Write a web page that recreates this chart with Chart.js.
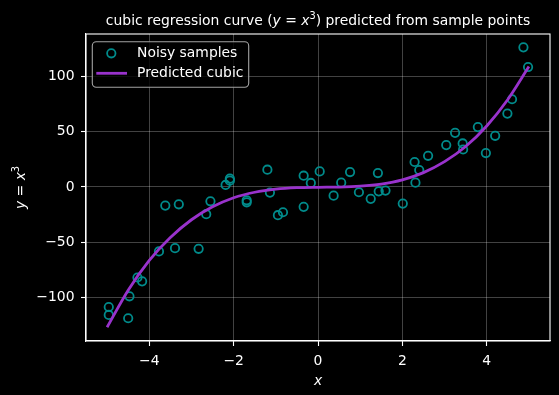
<!DOCTYPE html>
<html><head><meta charset="utf-8">
<style>html,body{margin:0;padding:0;background:#000;}canvas{display:block;}</style>
<script src="https://cdn.jsdelivr.net/npm/chart.js@4.4.0/dist/chart.umd.min.js"></script>
</head><body>
<canvas id="c" width="559" height="395"></canvas>
<script>
// ---- data ----
const sampleX = [-4.96,-4.96,-4.50,-4.47,-4.28,-4.17,-3.77,-3.62,-3.39,-3.30,-2.83,-2.65,-2.55,-2.19,-2.09,-2.09,-1.69,-1.69,-1.20,-1.14,-0.95,-0.83,-0.34,-0.34,-0.17,0.04,0.37,0.55,0.76,0.97,1.25,1.42,1.44,1.60,2.01,2.29,2.40,2.31,2.61,3.04,3.25,3.43,3.44,3.79,3.98,4.20,4.49,4.60,4.87,4.98];
const sampleY = [-108.7,-115.9,-118.9,-99,-82,-85.5,-58.4,-16.9,-55.4,-15.7,-56,-24.7,-13,1.8,7.5,5.7,-12.1,-13.9,15.6,-5.1,-25.6,-22.9,10.2,-18,3.6,14.1,-7.9,3.9,13.5,-4.8,-10.8,12.6,-4,-3.3,-15.1,22.6,15.3,3.9,28.2,37.9,49,39.4,33.9,54.2,30.7,46.3,66.4,79.4,126.4,108.6];
const curveX = [-5,-4.5,-4,-3.5,-3,-2.5,-2,-1.5,-1,-0.5,0,0.5,1,1.5,2,2.5,3,3.5,4,4.5,5];
const curveY = [-127,-93.5,-66.5,-45.8,-29.7,-18,-9.8,-4.8,-2,-0.7,-0.3,-0.1,0.7,2.6,6.4,13,22.9,36.6,55.2,79.2,109];
const xTicks = [-4,-2,0,2,4];
const yTicks = [-100,-50,0,50,100];
const xRange = [-5.5, 5.5];
const yRange = [-139.5, 138.5];
const seriesLabels = ['Noisy samples', 'Predicted cubic'];

const FONT = "'DejaVu Sans'";
const FS = 13.9;

function drawRich(ctx, parts, x, y, align) {
  const fontFor = p => (p.italic ? 'italic ' : '') + (p.sup ? FS*0.7 : FS) + 'px ' + FONT;
  let total = 0;
  parts.forEach(p => { ctx.font = fontFor(p); p.w = ctx.measureText(p.t).width; total += p.w; });
  let cx = align === 'center' ? x - total/2 : x;
  ctx.textAlign = 'left';
  ctx.textBaseline = 'alphabetic';
  parts.forEach(p => {
    ctx.font = fontFor(p);
    ctx.fillText(p.t, cx, p.sup ? y - FS*0.42 : y);
    cx += p.w;
  });
}

const bgPlugin = {
  id: 'bg',
  beforeDraw(chart) {
    const ctx = chart.ctx;
    ctx.save(); ctx.fillStyle = '#000'; ctx.fillRect(0,0,chart.width,chart.height); ctx.restore();
  }
};

const decoPlugin = {
  id: 'deco',
  afterDraw(chart) {
    const ctx = chart.ctx, a = chart.chartArea;
    ctx.save();
    // frame
    ctx.strokeStyle = '#fff'; ctx.lineWidth = 1.1;
    ctx.strokeRect(a.left, a.top, a.right - a.left, a.bottom - a.top);
    ctx.fillStyle = '#fff';
    // title
    const cxm = (a.left + a.right) / 2;
    drawRich(ctx, [
      {t:'cubic regression curve ('}, {t:'y', italic:true}, {t:' = '}, {t:'x', italic:true},
      {t:'3', sup:true}, {t:') predicted from sample points'}
    ], cxm, 25, 'center');
    // x label
    drawRich(ctx, [{t:'x', italic:true}], cxm, 385, 'center');
    // y label
    ctx.save();
    ctx.translate(25, (a.top + a.bottom)/2);
    ctx.rotate(-Math.PI/2);
    drawRich(ctx, [{t:'y', italic:true}, {t:' = '}, {t:'x', italic:true}, {t:'3', sup:true}], 0, 0, 'center');
    ctx.restore();
    // legend
    const lx = 92.3, ly = 41.7, lw = 156.4, lh = 45.6, r = 4;
    ctx.beginPath();
    ctx.roundRect(lx, ly, lw, lh, r);
    ctx.fillStyle = 'rgba(0,0,0,0.8)'; ctx.fill();
    ctx.strokeStyle = '#a3a3a3'; ctx.lineWidth = 1.1; ctx.stroke();
    const ds = chart.data.datasets;
    const sc = ds.find(d => d.label === seriesLabels[0]);
    const ln = ds.find(d => d.label === seriesLabels[1]);
    ctx.beginPath();
    ctx.arc(111.3, 53.3, sc.pointRadius, 0, Math.PI*2);
    ctx.strokeStyle = sc.borderColor; ctx.lineWidth = sc.borderWidth; ctx.stroke();
    ctx.beginPath();
    ctx.moveTo(96.3, 73.3); ctx.lineTo(127, 73.3);
    ctx.strokeStyle = ln.borderColor; ctx.lineWidth = ln.borderWidth; ctx.stroke();
    ctx.fillStyle = '#fff';
    ctx.font = FS + 'px ' + FONT; ctx.textAlign = 'left'; ctx.textBaseline = 'alphabetic';
    ctx.fillText(sc.label, 137, 57.3);
    ctx.fillText(ln.label, 137, 77.3);
    ctx.restore();
  }
};

const fmt = v => String(v).replace('-', '\u2212');

new Chart(document.getElementById('c'), {
  type: 'scatter',
  data: {
    datasets: [
      {
        label: seriesLabels[0],
        data: sampleX.map((x, i) => ({x, y: sampleY[i]})),
        showLine: false,
        pointStyle: 'circle',
        pointRadius: 4.2,
        pointHoverRadius: 4.2,
        borderColor: '#008b8b',
        backgroundColor: 'rgba(0,0,0,0)',
        borderWidth: 1.8,
        order: 1
      },
      {
        label: seriesLabels[1],
        data: curveX.map((x, i) => ({x, y: curveY[i]})),
        showLine: true,
        pointRadius: 0,
        borderColor: '#9932CC',
        backgroundColor: '#9932CC',
        borderWidth: 2.8,
        cubicInterpolationMode: 'monotone',
        fill: false,
        order: 0
      }
    ]
  },
  plugins: [bgPlugin, decoPlugin],
  options: {
    responsive: false,
    animation: false,
    devicePixelRatio: 1,
    layout: { padding: { left: 0, right: 9, top: 34, bottom: 0 } },
    plugins: { legend: { display: false }, tooltip: { enabled: false }, title: { display: false } },
    scales: {
      x: {
        type: 'linear', min: xRange[0], max: xRange[1],
        afterFit(s) { s.height = 54; },
        afterBuildTicks(s) { s.ticks = xTicks.map(v => ({value: v})); },
        ticks: { color: '#fff', padding: 7, font: { family: FONT, size: FS }, callback: fmt, maxRotation: 0, autoSkip: false },
        grid: { color: 'rgba(255,255,255,0.33)', lineWidth: 0.8, tickColor: '#fff', tickLength: 5, tickWidth: 1.1 },
        border: { display: true, color: '#fff', width: 1.1 }
      },
      y: {
        type: 'linear', min: yRange[0], max: yRange[1],
        afterFit(s) { s.width = 86; },
        afterBuildTicks(s) { s.ticks = yTicks.map(v => ({value: v})); },
        ticks: { color: '#fff', padding: 6.5, font: { family: FONT, size: FS }, callback: fmt, autoSkip: false },
        grid: { color: 'rgba(255,255,255,0.33)', lineWidth: 0.8, tickColor: '#fff', tickLength: 5, tickWidth: 1.1 },
        border: { display: true, color: '#fff', width: 1.1 }
      }
    }
  }
});
</script>
</body></html>
